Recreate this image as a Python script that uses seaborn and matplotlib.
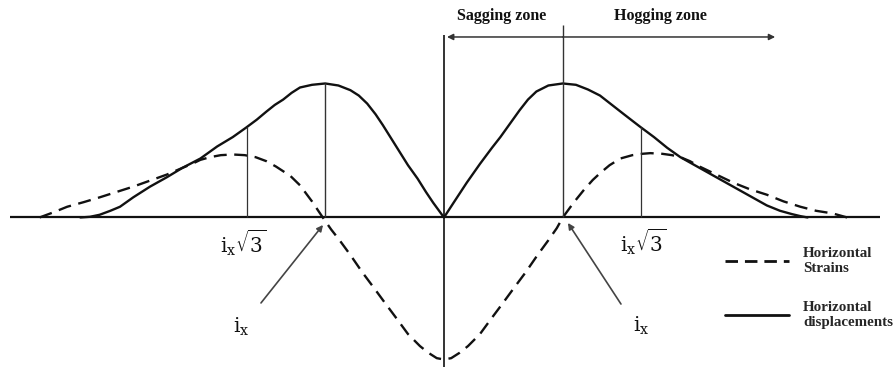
import matplotlib
matplotlib.use("Agg")
import matplotlib.pyplot as plt
import matplotlib.lines as mlines
import seaborn as sns
import pandas as pd

# Horizontal distance from the trough centre, in multiples of i_x,
# and horizontal displacement (solid) relative to its peak value
disp_x = [-3.03, -2.95, -2.87, -2.78, -2.70, -2.59, -2.45, -2.31, -2.18, -2.03,
          -1.89, -1.76, -1.65, -1.56, -1.48, -1.41, -1.34, -1.27, -1.20, -1.10,
          -0.99, -0.88, -0.78, -0.71, -0.64, -0.57, -0.51, -0.44, -0.37, -0.30,
          -0.22, -0.15, -0.09, 0.00,
          0.08, 0.19, 0.30, 0.40, 0.47, 0.55, 0.63, 0.70, 0.77, 0.87,
          0.99, 1.10, 1.20, 1.30, 1.40, 1.50, 1.63, 1.75, 1.86, 1.97,
          2.13, 2.27, 2.41, 2.55, 2.69, 2.80, 2.90, 2.97, 3.03]
disp_y = [0.00, 0.005, 0.02, 0.05, 0.08, 0.15, 0.23, 0.30, 0.37, 0.44,
          0.53, 0.60, 0.67, 0.73, 0.79, 0.84, 0.88, 0.93, 0.97, 0.99,
          1.00, 0.985, 0.95, 0.91, 0.85, 0.77, 0.69, 0.59, 0.49, 0.39,
          0.29, 0.19, 0.11, 0.00,
          0.11, 0.26, 0.40, 0.52, 0.60, 0.70, 0.80, 0.88, 0.94, 0.985,
          1.00, 0.99, 0.955, 0.91, 0.84, 0.77, 0.68, 0.60, 0.52, 0.45,
          0.37, 0.30, 0.23, 0.16, 0.09, 0.05, 0.025, 0.01, 0.00]

# Horizontal strain (dashed)
strain_x = [-3.37, -3.25, -3.14, -3.00, -2.87, -2.73, -2.59, -2.45, -2.31, -2.18,
            -2.10, -2.03, -1.95, -1.86, -1.76, -1.66, -1.57, -1.48, -1.40, -1.28,
            -1.20, -1.10, -1.01, -0.94, -0.87, -0.78, -0.68, -0.58, -0.49, -0.39,
            -0.30, -0.20, -0.13, -0.06, 0.00,
            0.06, 0.13, 0.20, 0.30, 0.39, 0.49, 0.58, 0.68, 0.78, 0.87,
            0.94, 0.99, 1.08, 1.17, 1.24, 1.30, 1.38, 1.47, 1.57, 1.65,
            1.72, 1.82, 1.90, 1.97, 2.05, 2.13, 2.27, 2.41, 2.55, 2.69,
            2.83, 2.97, 3.10, 3.24, 3.36]
strain_y = [0.00, 0.04, 0.08, 0.115, 0.15, 0.19, 0.23, 0.275, 0.32, 0.37,
            0.40, 0.43, 0.45, 0.465, 0.47, 0.465, 0.45, 0.42, 0.38, 0.31,
            0.24, 0.12, 0.00, -0.09, -0.17, -0.28, -0.41, -0.53, -0.64, -0.76,
            -0.87, -0.96, -1.01, -1.05, -1.06,
            -1.05, -1.01, -0.96, -0.87, -0.76, -0.64, -0.53, -0.41, -0.28, -0.17,
            -0.08, 0.00, 0.11, 0.21, 0.28, 0.33, 0.39, 0.44, 0.465, 0.475,
            0.48, 0.475, 0.465, 0.45, 0.42, 0.38, 0.32, 0.26, 0.21, 0.17,
            0.12, 0.08, 0.05, 0.03, 0.00]

ix_pos = 0.99          # inflexion distance i_x
ix_sqrt3_pos = 1.64    # i_x * sqrt(3)
ix_peak = 1.0          # displacement at i_x
ix_sqrt3_disp = 0.675  # displacement at i_x * sqrt(3)

zone_labels = ["Sagging zone", "Hogging zone"]
legend_labels = ["Horizontal\nStrains", "Horizontal\ndisplacements"]

disp_df = pd.DataFrame({"distance": disp_x, "value": disp_y})
strain_df = pd.DataFrame({"distance": strain_x, "value": strain_y})

sns.set_theme(style="white")
plt.rcParams["font.family"] = ["Liberation Serif", "DejaVu Serif"]
plt.rcParams["mathtext.fontset"] = "dejavuserif"

fig = plt.figure(figsize=(8.96, 3.67), dpi=100)
ax = fig.add_axes([0, 0, 1, 1])
ax.set_xlim(-3.70, 3.767)
ax.set_ylim(-1.116, 1.623)
ax.axis("off")

ink = "#111111"
thin = "#333333"

sns.lineplot(data=strain_df, x="distance", y="value", ax=ax, color=ink,
             lw=1.7, linestyle=(0, (5.5, 3.2)), estimator=None, sort=False)
sns.lineplot(data=disp_df, x="distance", y="value", ax=ax, color=ink,
             lw=1.7, estimator=None, sort=False)

# ground line
ax.hlines(0, -3.62, 3.63, color=ink, lw=1.6)

# centre line and reference verticals
ax.vlines(0, -1.116, 1.36, color=ink, lw=1.2)
ax.vlines(-ix_pos, 0, ix_peak, color=thin, lw=1.0)
ax.vlines(ix_pos, 0, 1.44, color=thin, lw=1.0)
ax.vlines([-ix_sqrt3_pos, ix_sqrt3_pos], 0, ix_sqrt3_disp, color=thin, lw=0.9)

# zone arrows
arrow_y = 1.347
for end in (0.025, 2.76):
    ax.annotate("", xy=(end, arrow_y), xytext=(ix_pos, arrow_y),
                arrowprops=dict(arrowstyle="-|>", color=thin, lw=1.1,
                                mutation_scale=9, shrinkA=0, shrinkB=0))
ax.text(0.483, 1.50, zone_labels[0], ha="center", va="center",
        fontsize=11.5, fontweight="bold", color=ink)
ax.text(1.80, 1.50, zone_labels[1], ha="center", va="center",
        fontsize=11.5, fontweight="bold", color=ink)

# i_x labels
lbl3 = r"$\mathrm{i}_{\mathrm{x}}\sqrt{3}$"
lbl = r"$\mathrm{i}_{\mathrm{x}}$"
ax.text(-1.675, -0.19, lbl3, ha="center", va="center", fontsize=14.5, color=ink)
ax.text(1.658, -0.183, lbl3, ha="center", va="center", fontsize=14.5, color=ink)
ax.text(-1.69, -0.817, lbl, ha="center", va="center", fontsize=14.5, color=ink)
ax.text(1.64, -0.81, lbl, ha="center", va="center", fontsize=14.5, color=ink)

ax.annotate("", xy=(-1.008, -0.056), xytext=(-1.525, -0.638),
            arrowprops=dict(arrowstyle="-|>", color="#444444", lw=1.2,
                            mutation_scale=9, shrinkA=0, shrinkB=0))
ax.annotate("", xy=(1.033, -0.041), xytext=(1.475, -0.646),
            arrowprops=dict(arrowstyle="-|>", color="#444444", lw=1.2,
                            mutation_scale=9, shrinkA=0, shrinkB=0))

handles = [
    mlines.Line2D([], [], color=ink, lw=2.0, linestyle=(0, (4.5, 2.5))),
    mlines.Line2D([], [], color=ink, lw=2.0),
]
leg = ax.legend(handles, legend_labels, loc="upper left",
                bbox_to_anchor=(725 / 896, 1 - 247 / 367),
                bbox_transform=fig.transFigure, frameon=False,
                prop={"family": "Liberation Serif", "weight": "bold", "size": 10.8},
                handlelength=4.25, handletextpad=0.95, borderpad=0,
                borderaxespad=0, labelspacing=1.75)
for t in leg.get_texts():
    t.set_linespacing(1.2)

fig.savefig("out.png", dpi=100)
